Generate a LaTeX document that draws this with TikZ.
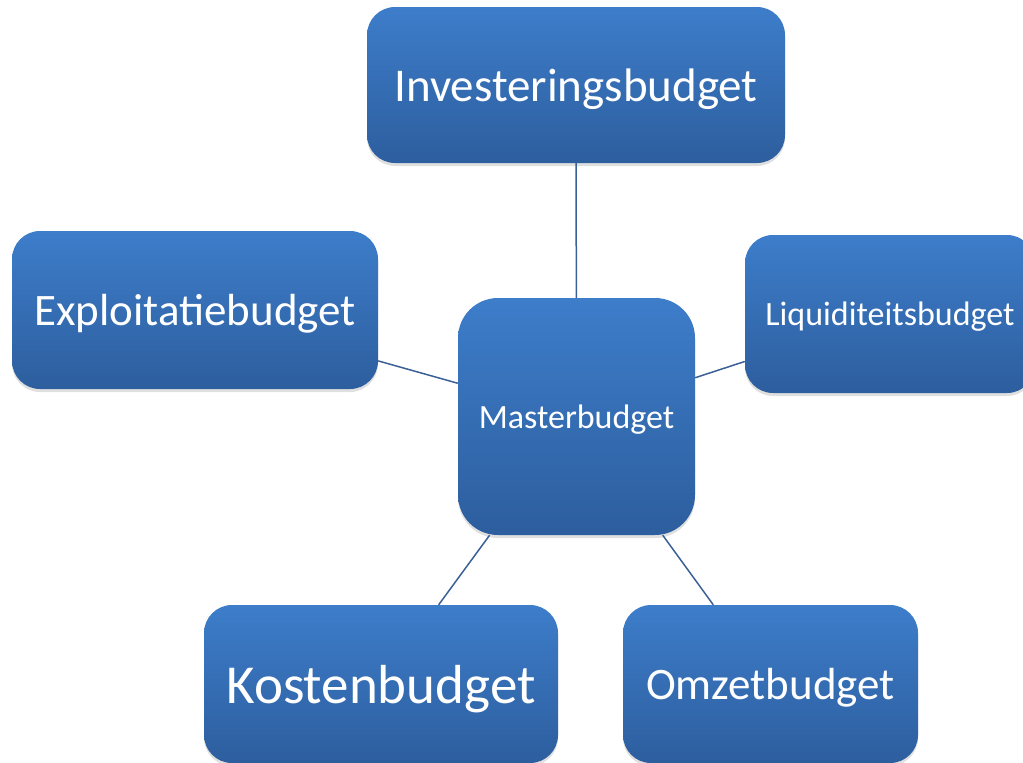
\documentclass[tikz,border=0pt]{standalone}
\usepackage{fontspec}
\setmainfont{Carlito}
\usetikzlibrary{positioning,shadows}
\definecolor{boxtop}{HTML}{3D7DCA}
\definecolor{boxbottom}{HTML}{2D5E9E}
\definecolor{linkblue}{HTML}{3B6096}
\tikzset{budget box/.style={rectangle,rounded corners=28pt,top color=boxtop,
                            bottom color=boxbottom,text=white,inner sep=0pt,text depth=0pt,
                            drop shadow={opacity=0.25,shadow xshift=0pt,shadow yshift=-3pt}},
         link/.style={draw=linkblue,line width=1.5pt}}

\begin{document}
\begin{tikzpicture}[x=1pt,y=-1pt]
\useasboundingbox (0,0) rectangle (1023,763);

\node[budget box,minimum width=418pt,minimum height=156pt,font=\fontsize{47pt}{50pt}\selectfont] (invest) at (576,85) {Investeringsbudget};
\node[budget box,minimum width=366pt,minimum height=158pt,font=\fontsize{45pt}{48pt}\selectfont] (exploit) at (195,310) {Exploitatiebudget};
\node[budget box,minimum width=290pt,minimum height=158pt,font=\fontsize{34pt}{37pt}\selectfont] (liquid) at (890,314) {Liquiditeitsbudget};
\node[budget box,rounded corners=40pt,minimum width=237pt,minimum height=237pt,font=\fontsize{34pt}{37pt}\selectfont] (master) at (576.5,416.5) {Masterbudget};
\node[budget box,minimum width=354pt,minimum height=158pt,font=\fontsize{55pt}{58pt}\selectfont] (kosten) at (381,684) {Kostenbudget};
\node[budget box,minimum width=295pt,minimum height=158pt,font=\fontsize{45pt}{48pt}\selectfont] (omzet) at (770.5,684) {Omzetbudget};

\draw[link] (master) -- (invest);
\draw[link] (master) -- (exploit);
\draw[link] (master) -- (liquid);
\draw[link] (master) -- (kosten);
\draw[link] (master) -- (omzet);

\end{tikzpicture}
\end{document}
